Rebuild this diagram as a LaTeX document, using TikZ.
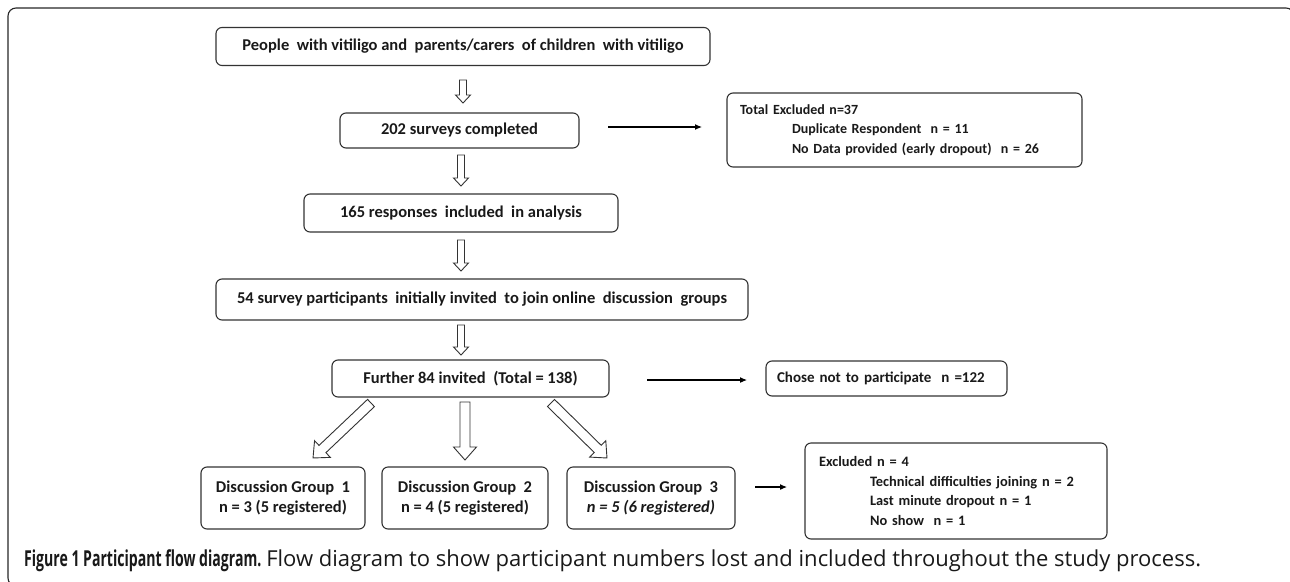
\documentclass[tikz,border=0pt]{standalone}
\usepackage{fontspec}
\setmainfont{Carlito}
\newfontfamily\capfont{Open Sans}
\newfontfamily\capcond{Open Sans}[FakeStretch=0.64]
\usetikzlibrary{calc,arrows.meta}
% hollow arrow: #1 start, #2 end, #3 half shaft, #4 half head, #5 head length
\newcommand\hollowarrow[5]{%
  \path let \p1=($(#2)-(#1)$), \n1={atan2(\y1,\x1)}, \n2={veclen(\x1,\y1)} in
    [harr, shift={(#1)}, rotate=\n1]
    (0pt,#3) -- (\n2-#5,#3) -- (\n2-#5,#4) -- (\n2,0pt) --
    (\n2-#5,-#4) -- (\n2-#5,-#3) -- (0pt,-#3) -- cycle;}
\begin{document}
\begin{tikzpicture}[x=1pt,y=1pt,
  box/.style={draw=black!80, line width=1.1pt, rounded corners=6pt, inner sep=0pt,
    font=\fontsize{16.5}{19.5}\selectfont\bfseries, text=black!90},
  sidebox/.style={box, font=\fontsize{14}{19.5}\selectfont\bfseries, align=left},
  harr/.style={draw=black!80, line width=0.9pt, fill=white, line join=miter},
  tarr/.style={draw=black, line width=1.1pt, -{Latex[length=7pt,width=6pt]}}]
\useasboundingbox (0,0) rectangle (1290,-581);
\begin{scope}
  \clip (0,0) rectangle (1290,-581);
  \draw[line width=1.1pt, draw=black!85, rounded corners=8pt] (8,-8) rectangle (1294,-586);
\end{scope}

% main column
\node[box, minimum width=494pt, minimum height=38pt] (b1) at (463,-46.5)
  {People\ \ with vitiligo and\ \ parents/carers\ \ of children\ \ with vitiligo};
\node[box, minimum width=239pt, minimum height=35pt] (b2) at (459.5,-130.5)
  {202 surveys completed};
\node[box, minimum width=314pt, minimum height=38pt] (b3) at (461,-213)
  {165 responses\ \ included\ \ in analysis};
\node[box, minimum width=532pt, minimum height=41pt] (b4) at (482,-299.5)
  {54 survey participants\ \ initially invited\ \ to join online\ \ discussion\ \ groups};
\node[box, minimum width=277pt, minimum height=37pt] (b5) at (470.5,-378.5)
  {Further 84 invited\ \ (Total = 138)};

% side boxes
\node[sidebox, minimum width=355pt, minimum height=74pt, text width=329pt] (x1) at (904.5,-130)
  {Total Excluded n=37\\
   \hspace*{52pt}Duplicate Respondent\ \ n = 11\\
   \hspace*{52pt}No Data provided (early dropout)\ \ n = 26};
\node[box, font=\fontsize{15}{18}\selectfont\bfseries, minimum width=241pt, minimum height=35pt,
  text width=219pt, align=left] (x2) at (886.5,-378.5)
  {Chose not to participate\ \ n =122};
\node[sidebox, font=\fontsize{14.4}{19.5}\selectfont\bfseries, minimum width=302pt, minimum height=96pt,
  text width=274pt] (x3) at (956,-491)
  {Excluded n = 4\\
   \hspace*{51pt}Technical difficulties joining n = 2\\
   \hspace*{51pt}Last minute\ dropout n = 1\\
   \hspace*{51pt}No show\ \ n = 1};

% discussion groups
\node[box, minimum width=164pt, minimum height=62pt, align=center] (g1) at (283,-498)
  {Discussion Group\ \ 1\\ n = 3 (5 registered)};
\node[box, minimum width=166pt, minimum height=62pt, align=center] (g2) at (465,-498)
  {Discussion Group\ \ 2\\ n = 4 (5 registered)};
\node[box, minimum width=168pt, minimum height=62pt, align=center] (g3) at (651,-498)
  {Discussion Group\ \ 3\\ \textit{n = 5 (6 registered)}};

% hollow arrow end points
\coordinate (h1s) at (463,-80);  \coordinate (h1e) at (463,-103);
\coordinate (h2s) at (461,-155); \coordinate (h2e) at (461,-186);
\coordinate (h3s) at (461,-240); \coordinate (h3e) at (461,-271);
\coordinate (h4s) at (461,-325); \coordinate (h4e) at (461,-355);
\coordinate (h5s) at (371,-403); \coordinate (h5e) at (313,-458);
\coordinate (h6s) at (465,-402); \coordinate (h6e) at (465,-460);
\coordinate (h7s) at (551,-403); \coordinate (h7e) at (607,-458);
\hollowarrow{h1s}{h1e}{3.5pt}{7.5pt}{8pt}
\hollowarrow{h2s}{h2e}{3.5pt}{7.5pt}{8pt}
\hollowarrow{h3s}{h3e}{3.5pt}{7.5pt}{8pt}
\hollowarrow{h4s}{h4e}{3.5pt}{7.5pt}{8pt}
\hollowarrow{h5s}{h5e}{5pt}{11.5pt}{13pt}
\hollowarrow{h6s}{h6e}{5pt}{11.5pt}{13pt}
\hollowarrow{h7s}{h7e}{5pt}{11.5pt}{13pt}

% thin arrows
\coordinate (t1s) at (608,-127); \coordinate (t1e) at (702,-127);
\coordinate (t2s) at (647,-380); \coordinate (t2e) at (747,-380);
\coordinate (t3s) at (755,-487); \coordinate (t3e) at (787,-487);
\draw[tarr] (t1s) -- (t1e);
\draw[tarr] (t2s) -- (t2e);
\draw[tarr] (t3s) -- (t3e);

% caption
\node[anchor=west, inner sep=0pt, font=\fontsize{22}{26}\selectfont, text=black!90] (cap) at (24,-561)
  {{\capcond\bfseries Figure 1 Participant flow diagram.}\ {\capfont Flow diagram to show participant numbers lost and included throughout the study process.}};
\end{tikzpicture}
\end{document}
